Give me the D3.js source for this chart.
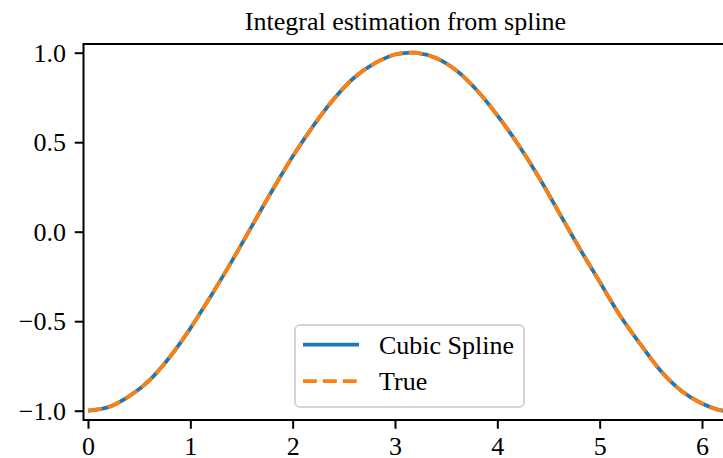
<!DOCTYPE html>
<html><head><meta charset="utf-8">
<script src="https://cdn.jsdelivr.net/npm/d3@7"></script>
<style>body{margin:0;background:#fff}svg{display:block}text{font-family:"Liberation Serif","DejaVu Serif",serif}</style>
</head><body><svg id="c" width="723" height="458"></svg>
<script>
const title = "Integral estimation from spline";
const xs = [0,0.2,0.4,0.6,0.8,1.0,1.2,1.4,1.6,1.8,2.0,2.2,2.4,2.6,2.8,3.0,3.14,3.2,3.4,3.6,3.8,4.0,4.2,4.4,4.6,4.8,5.0,5.2,5.4,5.6,5.8,6.0,6.2,6.28];
const splineY = [-1.00,-0.98,-0.92,-0.83,-0.70,-0.54,-0.36,-0.17,0.03,0.23,0.42,0.59,0.74,0.86,0.94,0.99,1.00,1.00,0.97,0.90,0.79,0.65,0.49,0.31,0.11,-0.09,-0.28,-0.47,-0.63,-0.78,-0.89,-0.96,-1.00,-1.00];
const trueY = [-1.00,-0.98,-0.92,-0.83,-0.70,-0.54,-0.36,-0.17,0.03,0.23,0.42,0.59,0.74,0.86,0.94,0.99,1.00,1.00,0.97,0.90,0.79,0.65,0.49,0.31,0.11,-0.09,-0.28,-0.47,-0.63,-0.78,-0.89,-0.96,-1.00,-1.00];
const xTicks = [0,1,2,3,4,5,6];
const yTicks = [-1.0,-0.5,0.0,0.5,1.0];
const seriesNames = ["Cubic Spline","True"];
const colors = ["#1f77b4","#ff7f0e"];

const svg = d3.select("#c");
const L = 83.5, R = 727.5, T = 44, B = 420;
const x = d3.scaleLinear().domain([0,6]).range([88,702]);
const y = d3.scaleLinear().domain([-1,1]).range([410.7,52.7]);
const fs = 26;

svg.append("defs").append("clipPath").attr("id","clip")
  .append("rect").attr("x",L).attr("y",T).attr("width",R-L).attr("height",B-T);

const line = d3.line().x(d=>x(d[0])).y(d=>y(d[1])).curve(d3.curveCatmullRom.alpha(0.5));
const g = svg.append("g").attr("clip-path","url(#clip)");
g.append("path").datum(xs.map((v,i)=>[v,splineY[i]])).attr("d",line)
  .attr("fill","none").attr("stroke",colors[0]).attr("stroke-width",3.75);
g.append("path").datum(xs.map((v,i)=>[v,trueY[i]])).attr("d",line)
  .attr("fill","none").attr("stroke",colors[1]).attr("stroke-width",3.75)
  .attr("stroke-dasharray","13.9,6");

// axes
const fmtMinus = s => s.replace("-","\u2212");
const xAxis = d3.axisBottom(x).tickValues(xTicks).tickFormat(d3.format("d")).tickSize(8.75).tickPadding(7.5);
const yAxis = d3.axisLeft(y).tickValues(yTicks).tickFormat(d=>fmtMinus(d3.format(".1f")(d))).tickSize(8.75).tickPadding(8.75);
const gx = svg.append("g").attr("transform",`translate(0,${B})`).call(xAxis);
const gy = svg.append("g").attr("transform",`translate(${L},0)`).call(yAxis);
[gx,gy].forEach(a=>{
  a.select(".domain").remove();
  a.selectAll(".tick line").attr("stroke","#000").attr("stroke-width",2);
  a.selectAll(".tick text").attr("font-size",fs).attr("fill","#000").attr("font-family","Liberation Serif");
});
// spines
svg.append("rect").attr("x",L).attr("y",T).attr("width",R-L).attr("height",B-T)
  .attr("fill","none").attr("stroke","#000").attr("stroke-width",2);

svg.append("text").attr("x",(L+R)/2).attr("y",30).attr("text-anchor","middle")
  .attr("font-size",fs).text(title);

// legend
const lg = svg.append("g");
lg.append("rect").attr("x",295).attr("y",325).attr("width",229).attr("height",82).attr("rx",5)
  .attr("fill","#fff").attr("fill-opacity",0.8).attr("stroke","#d5d5d5").attr("stroke-width",2);
const rows = [344.5, 381];
seriesNames.forEach((n,i)=>{
  lg.append("line").attr("x1",303).attr("x2",359).attr("y1",rows[i]).attr("y2",rows[i])
    .attr("stroke",colors[i]).attr("stroke-width",3.75)
    .attr("stroke-dasharray", i===1 ? "13.9,6" : null);
  lg.append("text").attr("x",379).attr("y",rows[i]).attr("dy","0.35em").attr("font-size",fs).text(n);
});
</script></body></html>
